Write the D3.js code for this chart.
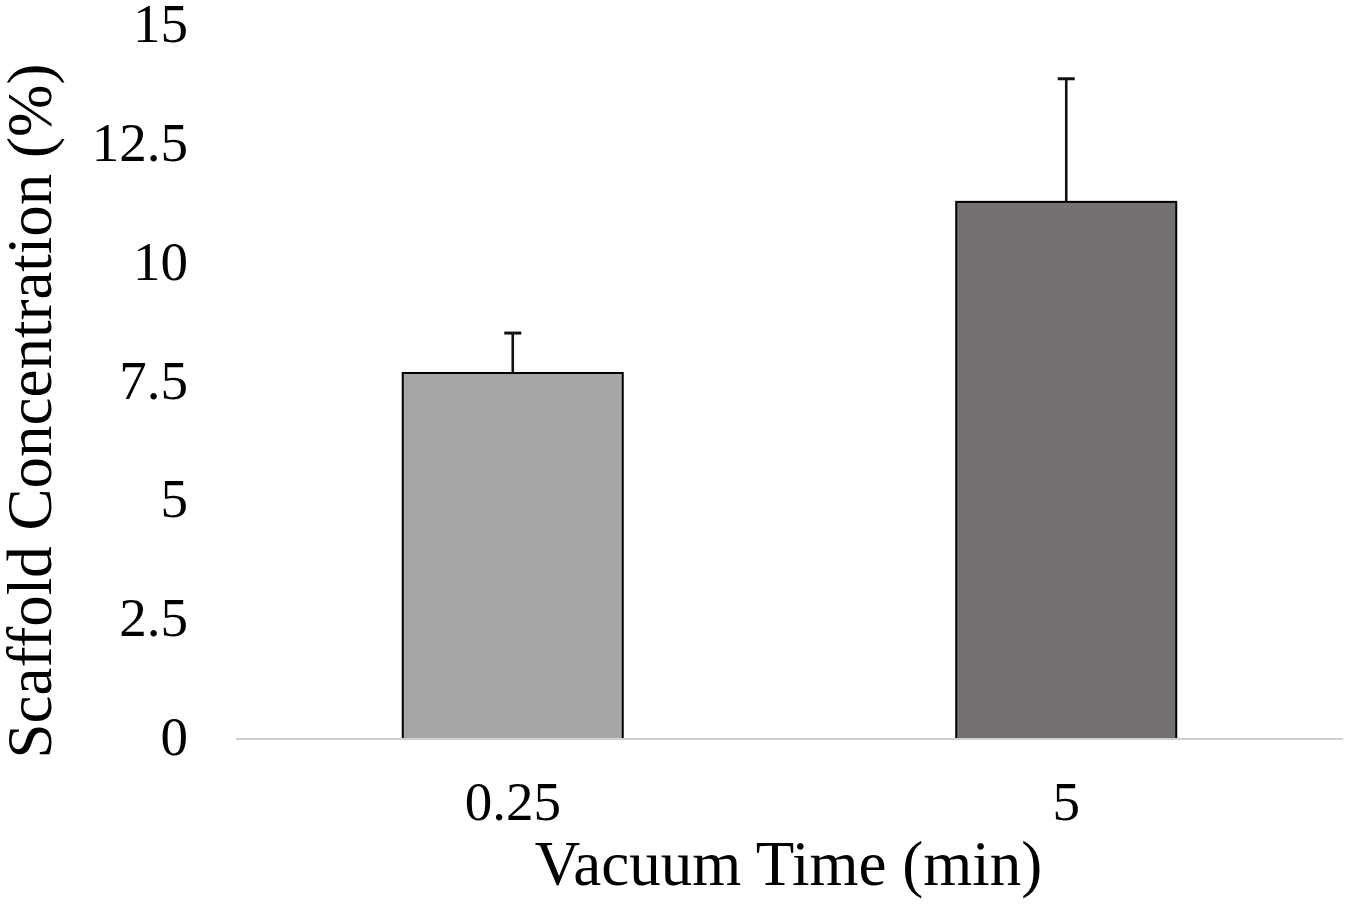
<!DOCTYPE html>
<html><head><meta charset="utf-8">
<script src="https://cdn.jsdelivr.net/npm/d3@7"></script>
<style>html,body{margin:0;padding:0;background:#fff;}svg{display:block;}</style>
</head><body>
<svg id="chart" width="1350" height="904"></svg>
<script>
const categories = ["0.25", "5"];
const values = [7.70, 11.30];
const errors = [0.84, 2.59];
const barColors = ["#a6a6a6", "#767171"];
const yTicks = [0, 2.5, 5, 7.5, 10, 12.5, 15];
const yTickLabels = ["0", "2.5", "5", "7.5", "10", "12.5", "15"];
const xTitle = "Vacuum Time (min)";
const yTitle = "Scaffold Concentration (%)";

(function () {
const svg = d3.select("#chart");
const font = "'Liberation Serif','Times New Roman',serif";
const plotLeft = 236, plotRight = 1343, plotTop = 26, plotBottom = 739;

const x = d3.scaleBand().domain(categories).range([plotLeft, plotRight]).paddingInner(0.6025).paddingOuter(0.30125);
const y = d3.scaleLinear().domain([0, 15]).range([plotBottom, plotTop]);

// y tick labels (no axis line, no ticks)
const yAxis = d3.axisLeft(y).tickValues(yTicks).tickFormat((d, i) => yTickLabels[i]).tickSize(0).tickPadding(0);
const gy = svg.append("g").attr("transform", "translate(188,0)").call(yAxis);
gy.select(".domain").remove();
gy.selectAll("text").attr("font-family", font).attr("font-size", 55).attr("fill", "#000")
  .attr("dy", "0.32em").attr("transform", "translate(0,-2)");

// bars
svg.selectAll("rect.bar").data(categories).enter().append("rect")
  .attr("class", "bar")
  .attr("x", d => x(d)).attr("width", x.bandwidth())
  .attr("y", (d, i) => y(values[i])).attr("height", (d, i) => y(0) - y(values[i]))
  .attr("fill", (d, i) => barColors[i]).attr("stroke", "#000").attr("stroke-width", 2);

// x axis line
svg.append("line").attr("x1", plotLeft).attr("x2", plotRight).attr("y1", y(0)).attr("y2", y(0))
  .attr("stroke", "#d0d0d0").attr("stroke-width", 2.2);

// error bars
const eg = svg.append("g");
categories.forEach((c, i) => {
  const cx = x(c) + x.bandwidth() / 2;
  eg.append("line").attr("x1", cx).attr("x2", cx).attr("y1", y(values[i])).attr("y2", y(values[i] + errors[i]))
    .attr("stroke", "#111").attr("stroke-width", 2.6);
  eg.append("line").attr("x1", cx - 8.5).attr("x2", cx + 8.5).attr("y1", y(values[i] + errors[i])).attr("y2", y(values[i] + errors[i]))
    .attr("stroke", "#111").attr("stroke-width", 3);
});

// x category labels
const xAxis = d3.axisBottom(x).tickSize(0).tickPadding(0);
const gx = svg.append("g").attr("transform", "translate(0,820)").call(xAxis);
gx.select(".domain").remove();
gx.selectAll("text").attr("font-family", font).attr("font-size", 55).attr("fill", "#000").attr("dy", 0);

// titles
svg.append("text").attr("x", 788.5).attr("y", 885).attr("text-anchor", "middle")
  .attr("font-family", font).attr("font-size", 63).attr("fill", "#000").text(xTitle);
svg.append("text").attr("transform", "translate(51,411) rotate(-90)").attr("text-anchor", "middle")
  .attr("font-family", font).attr("font-size", 63).attr("fill", "#000").text(yTitle);
})();
</script>
</body></html>
